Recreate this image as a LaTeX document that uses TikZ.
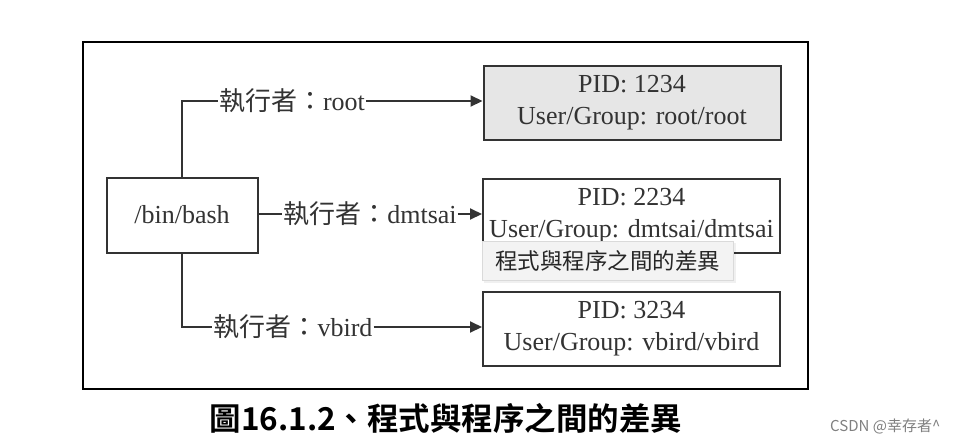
\documentclass[tikz,border=0pt]{standalone}
\usepackage{fontspec}
\setmainfont{Liberation Serif}
\newfontfamily\cjk{Noto Sans CJK TC}
\newfontfamily\cjkb{Noto Sans CJK TC Bold}
\newfontfamily\cjksc{Noto Sans CJK SC}
\usetikzlibrary{arrows.meta}
\definecolor{ink}{HTML}{333333}
\definecolor{gfill}{HTML}{E6E6E6}
\definecolor{tipfill}{HTML}{F3F3F3}
\definecolor{tipline}{HTML}{DADADA}
\tikzset{
  procbox/.style={draw=ink, line width=2pt, minimum width=297pt, minimum height=74pt,
    align=center, text=ink, font=\fontsize{26}{32}\selectfont, inner sep=0pt},
  lab/.style={text=ink, font=\fontsize{26}{30}\selectfont, inner sep=1pt},
  conn/.style={draw=ink, line width=2pt},
  arr/.style={conn, -{Triangle[length=12pt,width=11pt]}},
}
\begin{document}
\begin{tikzpicture}[x=1pt,y=-1pt]
\useasboundingbox (0,0) rectangle (960,442);
\fill[white] (0,0) rectangle (960,442);
% outer frame
\node[draw=black, line width=2pt, minimum width=725pt, minimum height=347pt, inner sep=0pt] (frame) at (445.5,215.5) {};
% boxes
\node[procbox, fill=gfill] (p1) at (632,103) {PID: 1234\\User/Group: root/root};
\node[procbox] (p2) at (631.5,215.5) {PID: 2234\\User/Group: dmtsai/dmtsai};
\node[procbox] (p3) at (631.5,328.5) {PID: 3234\\User/Group: vbird/vbird};
\node[procbox, minimum width=151pt, minimum height=75pt] (bash) at (182,215) {/bin/bash};
% labels
\node[lab] (l1) at (292,101) {{\cjk 執行者：}root};
\node[lab] (l2) at (370,214) {{\cjk 執行者：}dmtsai};
\node[lab] (l3) at (293,327) {{\cjk 執行者：}vbird};
% connectors
\draw[conn] (bash.north) |- (l1.west);
\draw[arr] (l1.east) -- (l1.east -| p1.west);
\draw[conn] (bash.east |- l2.west) -- (l2.west);
\draw[arr] (l2.east) -- (l2.east -| p2.west);
\draw[conn] (bash.south) |- (l3.west);
\draw[arr] (l3.east) -- (l3.east -| p3.west);
% tooltip
\fill[black, opacity=0.06] (484,243) rectangle (736,283);
\node[draw=tipline, fill=tipfill, line width=0.8pt, minimum width=251pt, minimum height=39pt, inner sep=0pt,
  text=black!85, font=\cjk\fontsize{22.5}{26}\selectfont] (tip) at (607.5,260.5) {程式與程序之間的差異};
% caption
\node[font=\cjkb\fontsize{31.5}{36}\selectfont, text=black, inner sep=0pt] (cap) at (446,418) {圖16.1.2、程式與程序之間的差異};
\node[font=\cjksc\fontsize{15}{18}\selectfont, text=black!50, inner sep=0pt, anchor=west] (wm) at (830,426) {CSDN @幸存者\^{}};
\end{tikzpicture}
\end{document}
